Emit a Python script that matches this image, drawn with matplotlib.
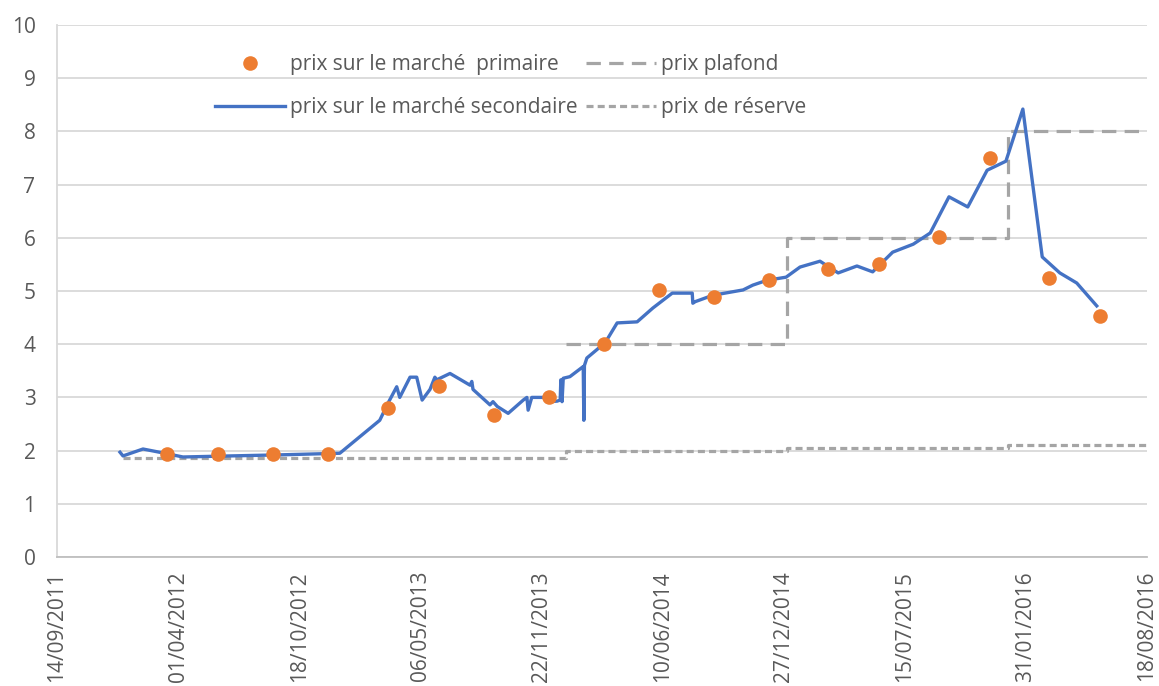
import matplotlib
matplotlib.use("Agg")
import matplotlib.pyplot as plt
import matplotlib.dates as mdates
from matplotlib.lines import Line2D
import pandas as pd

# ---------------- data ----------------
primary_dates = ['2012-03-14', '2012-06-06', '2012-09-05', '2012-12-05',
                 '2013-03-13', '2013-06-05', '2013-09-04', '2013-12-04',
                 '2014-03-05', '2014-06-04', '2014-09-03', '2014-12-03',
                 '2015-03-11', '2015-06-03', '2015-09-09', '2015-12-02',
                 '2016-03-09', '2016-06-01']
primary_prices = [1.93, 1.93, 1.93, 1.93, 2.80, 3.21, 2.67, 3.00, 4.00, 5.02,
                  4.88, 5.21, 5.41, 5.50, 6.02, 7.50, 5.25, 4.53]

secondary_dates = ['2011-12-27', '2012-01-01', '2012-02-03', '2012-03-10', '2012-04-09',
                   '2012-06-26', '2012-09-16', '2012-12-24', '2013-02-28', '2013-03-14',
                   '2013-03-28', '2013-04-02', '2013-04-19', '2013-04-30', '2013-05-09',
                   '2013-05-22', '2013-05-30', '2013-06-02', '2013-06-24', '2013-07-27',
                   '2013-07-30', '2013-08-01', '2013-08-29', '2013-09-03', '2013-09-10',
                   '2013-09-28', '2013-10-23', '2013-10-29', '2013-10-31', '2013-11-06',
                   '2013-11-25', '2013-12-06', '2013-12-18', '2013-12-23', '2013-12-24',
                   '2013-12-26', '2013-12-28', '2014-01-08', '2014-01-30', '2014-01-31',
                   '2014-02-01', '2014-02-05', '2014-02-27', '2014-03-10', '2014-03-27',
                   '2014-04-29', '2014-05-25', '2014-06-26', '2014-07-29', '2014-07-30',
                   '2014-08-03', '2014-09-01', '2014-10-21', '2014-11-06', '2014-11-29',
                   '2014-12-31', '2015-01-23', '2015-02-25', '2015-03-27', '2015-04-27',
                   '2015-05-23', '2015-06-25', '2015-07-29', '2015-08-26', '2015-09-26',
                   '2015-10-27', '2015-11-28', '2015-12-29', '2016-01-26', '2016-02-27',
                   '2016-03-27', '2016-04-24', '2016-05-27']
secondary_prices = [1.97, 1.90, 2.03, 1.95, 1.88,
                    1.90, 1.92, 1.95, 2.57, 2.90,
                    3.20, 3.00, 3.38, 3.38, 2.95,
                    3.15, 3.38, 3.33, 3.45, 3.23,
                    3.30, 3.15, 2.86, 2.92, 2.83,
                    2.70, 2.95, 3.00, 2.76, 3.00,
                    3.00, 2.92, 2.93, 2.95, 3.33,
                    2.92, 3.36, 3.39, 3.58, 2.57,
                    3.60, 3.74, 3.95, 4.08, 4.40,
                    4.42, 4.68, 4.96, 4.96, 4.77,
                    4.80, 4.92, 5.02, 5.11, 5.20,
                    5.26, 5.45, 5.56, 5.34, 5.47,
                    5.36, 5.73, 5.88, 6.09, 6.77,
                    6.58, 7.27, 7.44, 8.42, 5.64,
                    5.34, 5.15, 4.72]

ceiling_dates = ['2014-01-01', '2015-01-01', '2016-01-01', '2016-08-18']
ceiling_prices = [4, 6, 8, 8]

reserve_dates = ['2012-01-01', '2014-01-01', '2015-01-01', '2016-01-01', '2016-08-18']
reserve_prices = [1.86, 2.00, 2.05, 2.10, 2.10]

tick_labels = ['14/09/2011', '01/04/2012', '18/10/2012', '06/05/2013', '22/11/2013',
               '10/06/2014', '27/12/2014', '15/07/2015', '31/01/2016', '18/08/2016']

label_primary = 'prix sur le marché  primaire'
label_secondary = 'prix sur le marché secondaire'
label_ceiling = 'prix plafond'
label_reserve = 'prix de réserve'

# ---------------- style ----------------
plt.rcParams['font.family'] = ['Open Sans', 'DejaVu Sans']
TXT = '#595959'
BLUE = '#4472C4'
ORANGE = '#ED7D31'
GRAY = '#A5A5A5'
FS = 15

fig = plt.figure(figsize=(11.59, 6.86), dpi=100)
ax = fig.add_axes([57 / 1159, 1 - 557 / 686, (1147 - 57) / 1159, (557 - 25) / 686])

to_dt = lambda s: pd.to_datetime(s)
tick_dt = pd.to_datetime(tick_labels, format='%d/%m/%Y')

ax.plot(to_dt(ceiling_dates), ceiling_prices, drawstyle='steps-post', color=GRAY,
        lw=2.3, dashes=(4.5, 2.6), zorder=2)
ax.plot(to_dt(reserve_dates), reserve_prices, drawstyle='steps-post', color=GRAY,
        lw=2.3, dashes=(2.2, 1.3), zorder=2)
ax.plot(to_dt(secondary_dates), secondary_prices, color=BLUE, lw=2.4, zorder=3,
        solid_joinstyle='round')
ax.plot(to_dt(primary_dates), primary_prices, 'o', color=ORANGE, ms=10.5,
        mec='none', zorder=4)

ax.set_xlim(tick_dt[0], tick_dt[-1])
ax.set_ylim(0, 10)
ax.set_yticks(range(0, 11))
ax.set_xticks(tick_dt)
ax.set_xticklabels(tick_labels, rotation=90)
ax.tick_params(axis='both', length=0, labelsize=FS, labelcolor=TXT)
ax.tick_params(axis='y', pad=15.5)
ax.tick_params(axis='x', pad=10)
ax.grid(axis='y', color='#D9D9D9', lw=1.3)
ax.set_axisbelow(True)
for s in ['top', 'right']:
    ax.spines[s].set_visible(False)
ax.spines['left'].set_color('#D9D9D9')
ax.spines['left'].set_linewidth(1.3)
ax.spines['bottom'].set_color('#BFBFBF')
ax.spines['bottom'].set_linewidth(1.3)

handles = [
    Line2D([], [], marker='o', ls='none', color=ORANGE, ms=10.5, mec='none'),
    Line2D([], [], color=BLUE, lw=2.4),
    Line2D([], [], color=GRAY, lw=2.3, dashes=(4.5, 2.6)),
    Line2D([], [], color=GRAY, lw=2.3, dashes=(2.2, 1.3)),
]
labels = [label_primary, label_secondary, label_ceiling, label_reserve]
leg = fig.legend(handles, labels, ncol=2, loc='upper left',
                 bbox_to_anchor=(215 / 1159, 1 - 54 / 686), frameon=False,
                 fontsize=FS, handlelength=3.36, handletextpad=0.24,
                 columnspacing=0.38, labelspacing=1.06, borderpad=0,
                 borderaxespad=0)
for t in leg.get_texts():
    t.set_color(TXT)

fig.savefig('out.png', dpi=100, facecolor='white')
